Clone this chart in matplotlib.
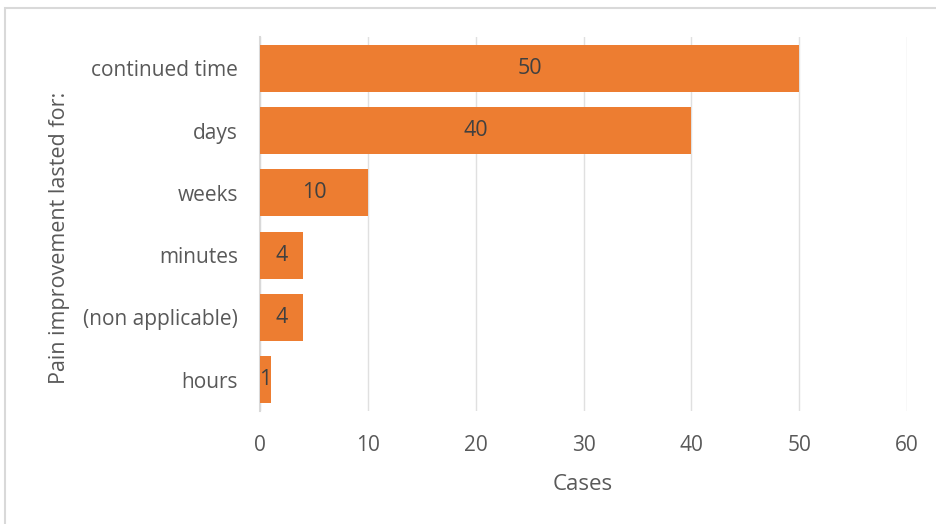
import matplotlib
matplotlib.use("Agg")
import matplotlib.pyplot as plt
from matplotlib.patches import Rectangle

categories = ["continued time", "days", "weeks", "minutes", "(non applicable)", "hours"]
cases = [50, 40, 10, 4, 4, 1]
xticks = [0, 10, 20, 30, 40, 50, 60]

plt.rcParams['font.family'] = ['Open Sans', 'DejaVu Sans']

W, H = 937, 524
fig = plt.figure(figsize=(W / 100, H / 100), dpi=100)
fig.patch.set_facecolor("white")

# outer border (top & left visible)
fig.patches.append(Rectangle((5 / W, -0.1), 1.2, (H - 8) / H + 0.1, transform=fig.transFigure,
                             fill=False, edgecolor="#d9d9d9", linewidth=1.5))

ax = fig.add_axes([260 / W, 1 - 411 / H, (907 - 260) / W, (411 - 37) / H])
ypos = list(range(len(categories)))
bars = ax.barh(ypos, cases, height=0.75, color="#ED7D31", zorder=3)
ax.set_ylim(len(categories) - 0.5, -0.5)
ax.set_xlim(0, 60)
ax.set_xticks(xticks)
ax.set_yticks(ypos)
ax.set_yticklabels(categories)

for b, v in zip(bars, cases):
    ax.text(b.get_width() / 2, b.get_y() + b.get_height() / 2, str(v),
            ha="center", va="center", fontsize=15.5, color="#404040", zorder=4)

ax.grid(axis="x", color="#e0e0e0", linewidth=1.0, zorder=0)
for s in ["top", "right", "bottom"]:
    ax.spines[s].set_visible(False)
ax.spines["left"].set_color("#d9d9d9")
ax.spines["left"].set_linewidth(1.5)
ax.tick_params(axis="both", length=0, labelsize=15, labelcolor="#595959")
ax.tick_params(axis="x", pad=17)
ax.tick_params(axis="y", pad=16)

fig.text(583 / W, 1 - 484 / H, "Cases", ha="center", va="center", fontsize=16, color="#595959")
fig.text(60 / W, 1 - 238 / H, "Pain improvement lasted for:", ha="center", va="center",
         rotation=90, fontsize=15.5, color="#595959")

fig.savefig("out.png", dpi=100, facecolor="white")
